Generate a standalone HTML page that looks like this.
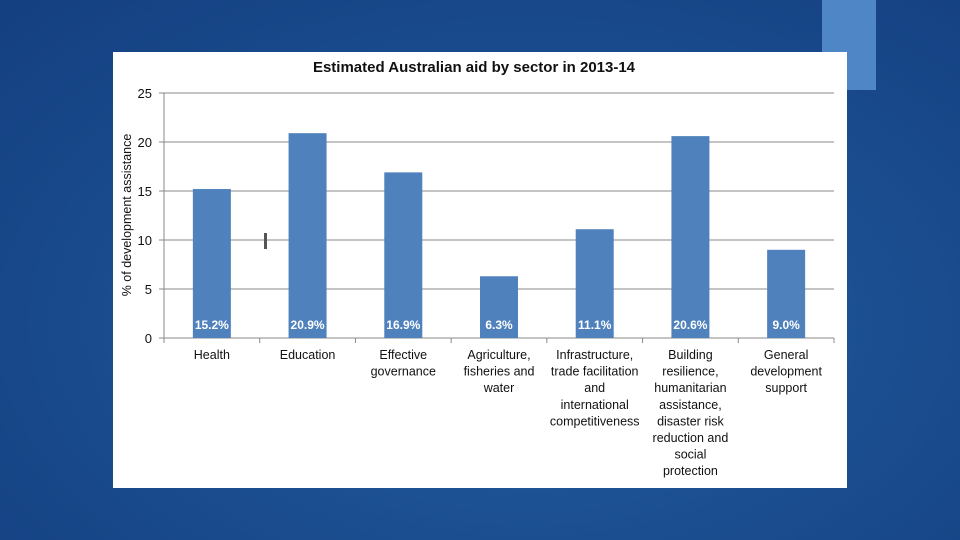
<!DOCTYPE html>
<html><head><meta charset="utf-8"><style>
html,body{margin:0;padding:0}
body{width:960px;height:540px;overflow:hidden;position:relative;
background:radial-gradient(ellipse at 55% 60%,#2462a4 0%,#1b4f91 45%,#143f80 100%);
font-family:"Liberation Sans",sans-serif}
#accent{position:absolute;left:822px;top:0;width:54px;height:90px;background:#4f86c6}
#panel{position:absolute;left:113px;top:52px;width:734px;height:436px;background:#fff}
svg{position:absolute;left:0;top:0}
</style></head><body>
<div id="accent"></div>
<div id="panel"></div>
<svg id="chart" width="960" height="540"></svg>
<script>
const categories=[["Health"],["Education"],["Effective","governance"],["Agriculture,","fisheries and","water"],["Infrastructure,","trade facilitation","and","international","competitiveness"],["Building","resilience,","humanitarian","assistance,","disaster risk","reduction and","social","protection"],["General","development","support"]];
const values=[15.2,20.9,16.9,6.3,11.1,20.6,9.0];
const valueLabels=["15.2%","20.9%","16.9%","6.3%","11.1%","20.6%","9.0%"];
const yTicks=[0,5,10,15,20,25];
const NS="http://www.w3.org/2000/svg";
const svg=document.getElementById('chart');
const x0=164,x1=834,yTop=93,yBot=338,yMax=25;
const bw=(x1-x0)/categories.length;
const y=v=>yBot-(v/yMax)*(yBot-yTop);
function el(t,a,txt){const e=document.createElementNS(NS,t);for(const k in a)e.setAttribute(k,a[k]);if(txt!=null)e.textContent=txt;svg.appendChild(e);return e;}
const title=el('text',{x:474,y:72,'text-anchor':'middle','font-size':15,'font-weight':'bold',fill:'#111'},'Estimated Australian aid by sector in 2013-14');


yTicks.forEach(t=>{
  const g=el('line',{x1:x0-5,x2:x1,y1:y(t),y2:y(t),stroke:'#888','stroke-width':1});
  
  
  const l=el('text',{x:152,y:y(t)+5,'text-anchor':'end','font-size':13,fill:'#111'},String(t));
  
  
});
const ax=el('line',{x1:x0,x2:x0,y1:yTop,y2:yBot,stroke:'#888'});


const yt=el('text',{x:0,y:0,transform:'translate(131,215) rotate(-90)','text-anchor':'middle','font-size':12.5,fill:'#111'},'% of development assistance');


for(let i=0;i<=categories.length;i++){
  const tk=el('line',{x1:x0+i*bw,x2:x0+i*bw,y1:yBot,y2:yBot+5,stroke:'#888'});
  
  
}
categories.forEach((c,i)=>{
  const cx=x0+bw*(i+0.5);
  const r=el('rect',{x:cx-19,y:y(values[i]),width:38,height:yBot-y(values[i]),fill:'#4f81bd'});
  
  
  const vl=el('text',{x:cx,y:yBot-9,'text-anchor':'middle','font-size':12,'font-weight':'bold',fill:'#fff'},valueLabels[i]);
  
  
  c.forEach((line,j)=>{
    const t=el('text',{x:cx,y:359+j*16.6,'text-anchor':'middle','font-size':12.5,fill:'#111'},line);
    
    
  });
});
const mk=el('rect',{x:264,y:233,width:3,height:16,fill:'#555'});


</script>
</body></html>
